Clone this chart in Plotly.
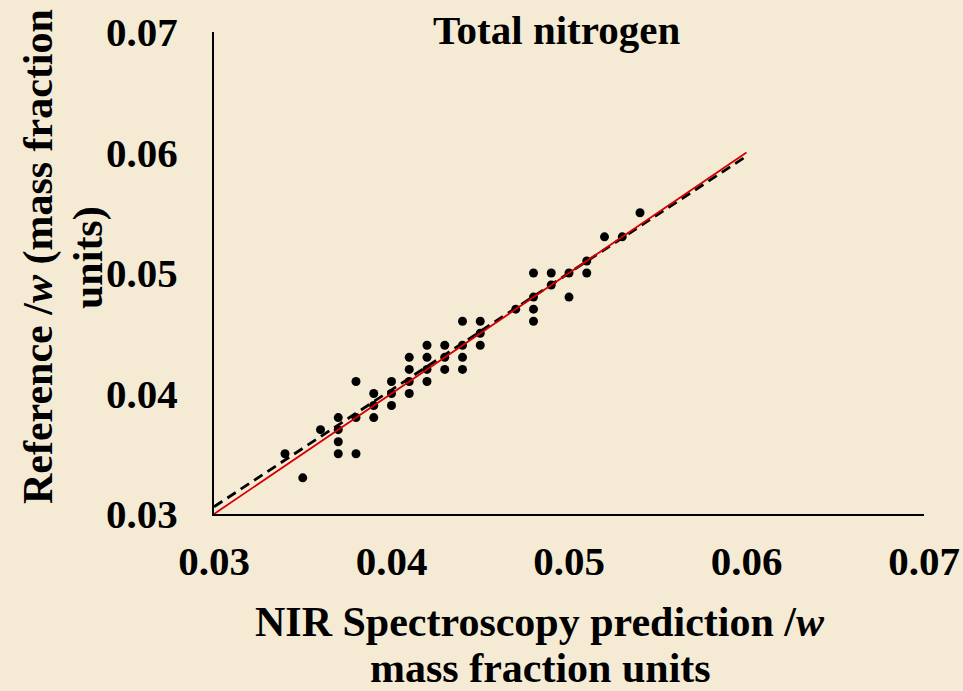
import plotly.graph_objects as go

# NIR predicted vs. reference total nitrogen (mass fraction units)
nir_pred = [0.034, 0.035, 0.036,
            0.037, 0.037, 0.037, 0.037,
            0.038, 0.038, 0.038,
            0.039, 0.039, 0.039,
            0.040, 0.040, 0.040,
            0.041, 0.041, 0.041, 0.041,
            0.042, 0.042, 0.042, 0.042,
            0.043, 0.043, 0.043,
            0.044, 0.044, 0.044, 0.044,
            0.045, 0.045, 0.045,
            0.047,
            0.048, 0.048, 0.048, 0.048,
            0.049, 0.049,
            0.050, 0.050,
            0.051, 0.051,
            0.052, 0.053, 0.054]
reference = [0.035, 0.033, 0.037,
             0.038, 0.037, 0.036, 0.035,
             0.041, 0.038, 0.035,
             0.040, 0.039, 0.038,
             0.041, 0.040, 0.039,
             0.043, 0.042, 0.041, 0.040,
             0.044, 0.043, 0.042, 0.041,
             0.044, 0.043, 0.042,
             0.046, 0.044, 0.043, 0.042,
             0.046, 0.045, 0.044,
             0.047,
             0.050, 0.048, 0.047, 0.046,
             0.050, 0.049,
             0.050, 0.048,
             0.051, 0.050,
             0.053, 0.053, 0.055]

line_x = [0.03, 0.06]
fit_slope = 0.97
fit_intercept = 0.0015
fit_y = [fit_slope * v + fit_intercept for v in line_x]
identity_y = list(line_x)

tick_vals = [0.03, 0.04, 0.05, 0.06, 0.07]
tick_text = ["0.03", "0.04", "0.05", "0.06", "0.07"]

FONT = "Liberation Serif, Times New Roman, serif"
BG = "#F5EBD5"

fig = go.Figure()
fig.add_trace(go.Scatter(x=nir_pred, y=reference, mode="markers",
                         marker=dict(color="black", size=9),
                         showlegend=False, hoverinfo="x+y"))
fig.add_trace(go.Scatter(x=line_x, y=fit_y, mode="lines",
                         line=dict(color="black", width=2.8, dash="10px,6px"),
                         showlegend=False))
fig.add_trace(go.Scatter(x=line_x, y=identity_y, mode="lines",
                         line=dict(color="#D40000", width=1.8),
                         showlegend=False))

axis_common = dict(range=[0.03, 0.07], tickvals=tick_vals, ticktext=tick_text,
                   showgrid=False, zeroline=False, showline=True,
                   linecolor="black", linewidth=2, ticks="", automargin=False,
                   tickfont=dict(family=FONT, size=41, color="black", weight="bold"))
fig.update_xaxes(**axis_common, ticklabelstandoff=10)
fig.update_yaxes(**axis_common, ticklabelstandoff=26)

L, R, T, B = 214, 39, 32, 177
W, H = 963, 691
pw, ph = W - L - R, H - T - B


def px_x(p):
    return (p - L) / pw


def px_y(p):
    return (H - B - p) / ph


def bold(t):
    return "<b>" + t + "</b>"


ann = []
ann.append(dict(text=bold("Total nitrogen"), x=px_x(556), y=px_y(30),
                font=dict(family=FONT, size=41, color="black")))
ann.append(dict(text=bold("NIR Spectroscopy prediction /<i>w</i>"), x=px_x(540), y=px_y(622),
                font=dict(family=FONT, size=42, color="black")))
ann.append(dict(text=bold("mass fraction units"), x=px_x(540), y=px_y(668),
                font=dict(family=FONT, size=42, color="black")))
ann.append(dict(text=bold("Reference /<i>w</i> (mass fraction"), x=px_x(38), y=px_y(257),
                textangle=-90, font=dict(family=FONT, size=42, color="black")))
ann.append(dict(text=bold("units)"), x=px_x(88), y=px_y(257),
                textangle=-90, font=dict(family=FONT, size=42, color="black")))
for a in ann:
    a.update(xref="paper", yref="paper", showarrow=False,
             xanchor="center", yanchor="middle")

fig.update_layout(width=W, height=H, margin=dict(l=L, r=R, t=T, b=B),
                  paper_bgcolor=BG, plot_bgcolor=BG, annotations=ann,
                  font=dict(family=FONT))

fig.write_html("out.html")
